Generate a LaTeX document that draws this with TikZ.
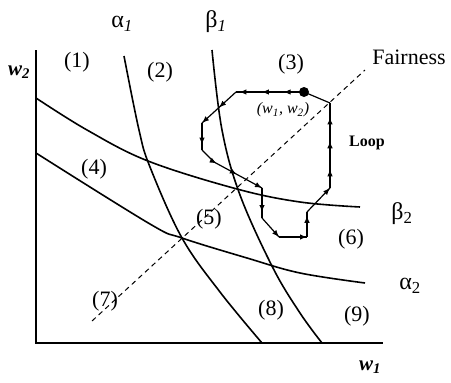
\documentclass[tikz,border=0pt]{standalone}
\usepackage{fontspec}
\setmainfont{Liberation Serif}
\usetikzlibrary{decorations.markings,arrows.meta}
\tikzset{
 curve/.style={line width=1.6pt},
 axisline/.style={line width=1.2pt},
 fair/.style={line width=1pt, dash pattern=on 5pt off 4pt},
 loopline/.style={line width=1.2pt},
 am/.style={postaction={decorate,decoration={markings,mark=at position #1 with {\arrow{Latex[length=7pt,width=5.5pt]}}}}},
 reg/.style={font=\fontsize{22}{24}\selectfont, inner sep=0pt},
 greek/.style={font=\fontsize{24}{26}\selectfont, inner sep=0pt},
 axlab/.style={font=\fontsize{21}{24}\selectfont\bfseries\itshape, inner sep=0pt},
 small/.style={font=\fontsize{16}{18}\selectfont\itshape, inner sep=0pt},
 looplab/.style={font=\fontsize{16}{18}\selectfont\bfseries, inner sep=0pt},
}
\begin{document}
\begin{tikzpicture}[x=1pt,y=-1pt]
\useasboundingbox (0,0) rectangle (451,383);
% axes
\coordinate (O) at (36,343);
\coordinate (Ytop) at (36,50);
\coordinate (Xend) at (383,343);
\draw[axisline] (Ytop) -- (O) -- (Xend);
% curves
\draw[curve] plot[smooth, tension=0.6] coordinates {(124,56) (139,130) (150,167) (182,238) (220,292) (262,343)};
\draw[curve] plot[smooth, tension=0.6] coordinates {(212,50) (222,130) (240,195) (273,268) (300,313) (322,343)};
\draw[curve] plot[smooth, tension=0.6] coordinates {(36,98) (87,130) (148,161) (237,189) (300,202) (360,207)};
\draw[curve] plot[smooth, tension=0.6] coordinates {(36,153) (150,224) (182,238) (247,258) (300,273) (365,283)};
% fairness line
\coordinate (F1) at (92,321);
\coordinate (F2) at (365,70);
\draw[fair] (F1) -- (F2);
% loop
\coordinate (P0) at (304,92);
\coordinate (P1) at (236,92);
\coordinate (P2) at (202,123);
\coordinate (P3) at (202,150);
\coordinate (Q) at (214,162);
\coordinate (P4) at (262,188);
\coordinate (P5) at (262,218);
\coordinate (P6) at (279,237);
\coordinate (P7) at (307,237);
\coordinate (P8) at (307,212);
\coordinate (P9) at (330,188);
\coordinate (P10) at (330,103);
\draw[loopline, am=0.3, am=0.62, am=0.95] (P0) -- (P1);
\draw[loopline, am=0.5, am=1] (P1) -- (P2);
\draw[loopline, am=0.8] (P2) -- (P3);
\draw[loopline, am=0.28, am=0.6, am=1] (P3) -- (Q) -- (P4);
\draw[loopline, am=0.8] (P4) -- (P5);
\draw[loopline, am=1] (P5) -- (P6);
\draw[loopline, am=1] (P6) -- (P7);
\draw[loopline, am=0.85] (P7) -- (P8);
\draw[loopline, am=1] (P8) -- (P9);
\draw[loopline, am=0.22, am=0.55, am=0.83] (P9) -- (P10);
\draw[loopline] (P10) -- (P0);
\fill (P0) circle (5pt);
% labels
\node[axlab] (w2) at (19,72) {w\textsubscript{2}};
\node[axlab] (w1) at (370,367) {w\textsubscript{1}};
\node[greek] (a1) at (122,24) {α\textsubscript{\textit{1}}};
\node[greek] (b1) at (216,22) {β\textsubscript{\textit{1}}};
\node[greek] (b2) at (402,214) {β\textsubscript{2}};
\node[greek] (a2) at (410,286) {α\textsubscript{2}};
\node[reg] (r1) at (77,62) {(1)};
\node[reg] (r2) at (160,72) {(2)};
\node[reg] (r3) at (291,64) {(3)};
\node[reg] (r4) at (94,169) {(4)};
\node[reg] (r5) at (209,219) {(5)};
\node[reg] (r6) at (351,239) {(6)};
\node[reg] (r7) at (105,301) {(7)};
\node[reg] (r8) at (271,310) {(8)};
\node[reg] (r9) at (357,316) {(9)};
\node[reg] (fair) at (409,57) {Fairness};
\node[looplab] (loop) at (367,143) {Loop};
\node[small] (pt) at (283,110) {(w\textsubscript{1}, w\textsubscript{2})};
\end{tikzpicture}
\end{document}
